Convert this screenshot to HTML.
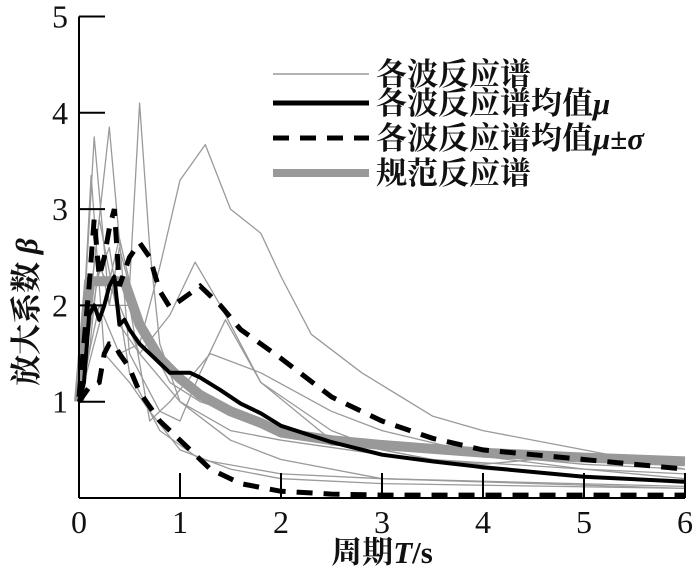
<!DOCTYPE html>
<html><head><meta charset="utf-8">
<style>
html,body{margin:0;padding:0;background:#fff;}
svg{display:block;}
.tick{font-family:"Liberation Serif",serif;font-size:32px;fill:#111;}
.cjk{font-family:"Liberation Serif","Noto Serif CJK SC",serif;font-weight:bold;font-size:31px;fill:#111;}
</style></head>
<body>
<svg id="chart" width="700" height="573" viewBox="0 0 700 573" xmlns="http://www.w3.org/2000/svg">
<g id="plot"></g>
<g id="axes"></g>
<g id="legend"></g>
</svg>
<script>
const xTicks=[0,1,2,3,4,5,6];
const yTicks=[1,2,3,4,5];
const xTickLabels=["0","1","2","3","4","5","6"];
const yTickLabels=["1","2","3","4","5"];
const codeT=[0,0.1,0.45,0.6,0.8,1.0,1.2,1.5,1.8,2.0,2.5,3.0,4.0,5.0,6.0];
const codeV=[1.0,2.25,2.25,1.8,1.45,1.24,1.07,0.9,0.78,0.68,0.6,0.55,0.47,0.42,0.38];
const meanT=[0,0.05,0.1,0.15,0.2,0.25,0.3,0.35,0.4,0.45,0.5,0.6,0.7,0.8,0.9,1.0,1.1,1.2,1.4,1.6,1.8,2.0,2.5,3.0,3.5,4.0,5.0,6.0];
const meanV=[1.0,1.2,1.9,2.0,1.85,2.0,2.2,2.3,1.8,1.85,1.75,1.6,1.5,1.4,1.3,1.3,1.3,1.25,1.12,0.98,0.88,0.75,0.58,0.45,0.38,0.32,0.22,0.17];
const upT=[0,0.1,0.15,0.2,0.25,0.3,0.35,0.4,0.5,0.6,0.7,0.8,0.9,1.0,1.2,1.4,1.6,1.8,2.0,2.5,3.0,3.5,4.0,5.0,6.0];
const upV=[1.05,2.2,2.9,2.3,2.5,2.8,3.0,2.2,2.5,2.65,2.5,2.15,1.98,2.05,2.2,2.0,1.75,1.6,1.45,1.05,0.8,0.62,0.5,0.4,0.3];
const loT=[0,0.1,0.2,0.25,0.3,0.35,0.4,0.5,0.6,0.8,1.0,1.3,1.6,2.0,2.5,3.0,6.0];
const loV=[1.0,1.15,1.2,1.5,1.6,1.6,1.5,1.35,1.1,0.8,0.6,0.3,0.15,0.07,0.04,0.03,0.03];
const waveT=[
[0,0.1,0.2,0.3,0.4,0.5,0.6,0.7,0.8,1.0,1.5,2,3,6],
[0,0.2,0.4,0.6,0.8,1.0,1.25,1.5,1.8,2.0,2.3,2.8,3.5,4.0,5.0,6],
[0,0.2,0.4,0.6,0.9,1.15,1.4,1.8,2.5,3,4,6],
[0,0.3,0.5,0.8,1.0,1.2,1.45,1.8,2.5,3.5,5,6],
[0,0.15,0.3,0.5,0.7,0.9,1.3,1.8,2.5,3.0,4,5,6],
[0,0.12,0.25,0.5,0.7,1.0,1.5,2.0,3,6],
[0,0.2,0.4,0.6,1.0,1.5,2,3,4,5,6],
[0,0.15,0.3,0.5,0.8,1.2,2,3,6],
[0,0.2,0.4,0.6,0.9,1.2,1.8,2.5,3.5,5,6]];
const waveV=[
[1,1.5,2.5,2.0,2.6,2.2,4.1,2.6,1.6,1.0,0.6,0.4,0.2,0.1],
[1,2.0,1.5,1.6,2.4,3.3,3.67,3.0,2.75,2.3,1.7,1.3,0.85,0.7,0.5,0.3],
[1,2.9,1.8,1.5,1.9,2.45,2.0,1.2,0.7,0.5,0.3,0.15],
[1,3.85,1.5,0.9,0.8,1.3,1.85,1.2,0.6,0.4,0.3,0.2],
[1,3.75,2.0,2.0,0.8,1.0,1.5,1.3,0.9,0.7,0.45,0.35,0.3],
[1,3.35,1.5,1.2,0.9,0.5,0.3,0.2,0.15,0.1],
[1,2.4,2.0,1.5,1.0,0.7,0.6,0.45,0.35,0.45,0.35],
[1,2.2,2.6,1.3,0.7,0.4,0.25,0.2,0.12],
[1,1.8,2.7,1.8,1.2,1.0,0.8,0.55,0.5,0.3,0.25]];

const NS="http://www.w3.org/2000/svg";
const X0=79,XS=101,Y0=498,YS=96.3;
const sx=t=>X0+t*XS, sy=v=>Y0-v*YS;
function mk(tag,attrs,parent){const e=document.createElementNS(NS,tag);for(const k in attrs)e.setAttribute(k,attrs[k]);parent.appendChild(e);return e;}
const plot=document.getElementById('plot'),axes=document.getElementById('axes'),legend=document.getElementById('legend');
function pts(T,V){return T.map((t,i)=>sx(t).toFixed(1)+","+sy(V[i]).toFixed(1)).join(" ");}

waveT.forEach((T,i)=>{
 const p=mk('polyline',{points:pts(T,waveV[i]),fill:'none',stroke:'#9a9a9a','stroke-width':1.3,'stroke-linejoin':'round'},plot);
 
 
});
const c=mk('polyline',{points:pts(codeT,codeV),fill:'none',stroke:'#999','stroke-width':10,'stroke-linejoin':'round'},plot);


const m=mk('polyline',{points:pts(meanT,meanV),fill:'none',stroke:'#000','stroke-width':4,'stroke-linejoin':'round'},plot);


const u=mk('polyline',{points:pts(upT,upV),fill:'none',stroke:'#000','stroke-width':5,'stroke-dasharray':'16,11'},plot);


const l=mk('polyline',{points:pts(loT,loV),fill:'none',stroke:'#000','stroke-width':5,'stroke-dasharray':'16,11'},plot);



const ya=mk('line',{x1:X0,y1:sy(5),x2:X0,y2:Y0,stroke:'#000','stroke-width':2},axes);


const xa=mk('line',{x1:X0,y1:Y0,x2:sx(6),y2:Y0,stroke:'#000','stroke-width':2},axes);


xTicks.forEach((t,i)=>{
 if(t>0){const tk=mk('line',{x1:sx(t),y1:Y0,x2:sx(t),y2:Y0-25,stroke:'#000','stroke-width':2},axes);
 
 }
 const tx=mk('text',{x:sx(t),y:533,'text-anchor':'middle',class:'tick'},axes);
 tx.textContent=xTickLabels[i];
 
 
});
yTicks.forEach((v,i)=>{
 const tk=mk('line',{x1:X0,y1:sy(v),x2:X0+26,y2:sy(v),stroke:'#000','stroke-width':2},axes);
 
 
 const tx=mk('text',{x:60,y:sy(v)+11,'text-anchor':'middle',class:'tick'},axes);
 tx.textContent=yTickLabels[i];
 
 
});
const xt=mk('text',{x:382,y:563,'text-anchor':'middle',class:'cjk'},axes);
xt.innerHTML='周期<tspan font-style="italic">T</tspan>/s';


const yt=mk('text',{x:0,y:0,'text-anchor':'middle',class:'cjk',transform:'translate(37,312) rotate(-90)'},axes);
yt.innerHTML='放大系数 <tspan font-style="italic">β</tspan>';



const legItems=[
 {y:74,label:'各波反应谱',stroke:'#9a9a9a',w:1.5,dash:''},
 {y:103,label:'各波反应谱均值<tspan font-style="italic">μ</tspan>',stroke:'#000',w:5,dash:''},
 {y:138,label:'各波反应谱均值<tspan font-style="italic">μ</tspan>±<tspan font-style="italic">σ</tspan>',stroke:'#000',w:5,dash:'16,11'},
 {y:173,label:'规范反应谱',stroke:'#999',w:8,dash:''}];
legItems.forEach(it=>{
 const g=mk('g',{},legend);
 
 
 const ln=mk('line',{x1:273,y1:it.y,x2:369,y2:it.y,stroke:it.stroke,'stroke-width':it.w,'stroke-dasharray':it.dash},g);
 
 
 const tx=mk('text',{x:376,y:it.y+11,class:'cjk'},g);
 tx.innerHTML=it.label;
 
 
});
</script>
</body></html>
